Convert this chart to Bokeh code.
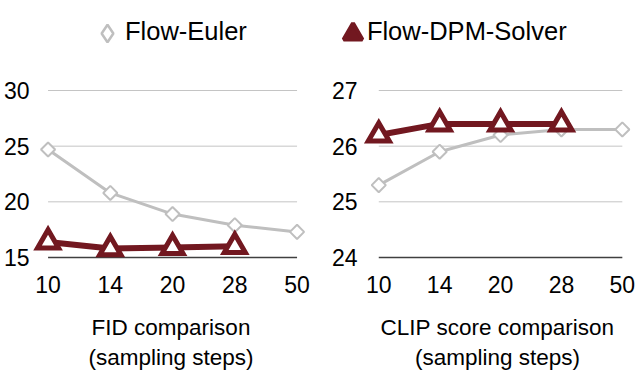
import math
from bokeh.plotting import figure
from bokeh.models import Range1d, Legend, LegendItem, FixedTicker
from bokeh.layouts import column, row
from bokeh.embed import file_html
from bokeh.resources import INLINE

steps = ["10", "14", "20", "28", "50"]
fid_euler = [24.7, 20.8, 18.9, 17.9, 17.3]
fid_dpm = [16.4, 15.8, 15.9, 16.0]
clip_euler = [25.3, 25.9, 26.2, 26.3, 26.3]
clip_dpm = [26.2, 26.4, 26.4, 26.4]
fid_ticks = [15, 20, 25, 30]
clip_ticks = [24, 25, 26, 27]
series_names = ["Flow-Euler", "Flow-DPM-Solver"]
panel_titles = ["FID comparison\n(sampling steps)", "CLIP score comparison\n(sampling steps)"]

GRAY = "#BFBFBF"
MAROON = "#721820"
GRID = "#C4C4C4"
AXIS = "#404040"
FONT = "Liberation Sans"


def panel(euler, dpm, ticks, title, x_range, y_range, mbl, mbr):
    p = figure(width=322, height=316, x_range=x_range, y_range=y_range,
               output_backend="svg", toolbar_location=None,
               min_border_left=mbl, min_border_right=mbr,
               min_border_top=18, min_border_bottom=122)
    p.outline_line_color = None
    p.grid.visible = False
    p.background_fill_color = None
    p.border_fill_color = None
    n = len(steps)
    idx = list(range(n))
    # gridlines and base line
    p.segment(x0=0, x1=n - 1, y0=ticks[1:], y1=ticks[1:], line_color=GRID, line_width=1)
    p.segment(x0=0, x1=n - 1, y0=ticks[0], y1=ticks[0], line_color=AXIS, line_width=1.3)
    # Flow-Euler
    p.line(idx[:len(euler)], euler, line_color=GRAY, line_width=3)
    p.scatter(idx[:len(euler)], euler, marker="square", angle=math.pi / 4, size=10,
              line_color=GRAY, fill_color="white", line_width=2)
    # Flow-DPM-Solver
    p.line(idx[:len(dpm)], dpm, line_color=MAROON, line_width=6)
    p.scatter(idx[:len(dpm)], dpm, marker="triangle", size=21,
              line_color=MAROON, fill_color="white", line_width=5, line_join="miter")

    p.xaxis.ticker = FixedTicker(ticks=idx)
    p.xaxis.major_label_overrides = {i: s for i, s in enumerate(steps)}
    p.yaxis.ticker = FixedTicker(ticks=ticks)
    for ax in (p.xaxis, p.yaxis):
        ax.axis_line_color = None
        ax.major_tick_line_color = None
        ax.minor_tick_line_color = None
        ax.major_tick_out = 0
        ax.major_tick_in = 0
        ax.minor_tick_out = 0
        ax.major_label_text_font = FONT
        ax.major_label_text_font_size = "23px"
        ax.major_label_text_color = "black"
    p.xaxis.major_label_standoff = 11
    p.yaxis.major_label_standoff = 3
    p.xaxis.axis_label = title
    p.xaxis.axis_label_text_font = FONT
    p.xaxis.axis_label_text_font_size = "22.5px"
    p.xaxis.axis_label_text_font_style = "normal"
    p.xaxis.axis_label_text_color = "black"
    p.xaxis.axis_label_standoff = 19
    p.xaxis.axis_label_text_line_height = 1.22
    return p


p1 = panel(fid_euler, fid_dpm, fid_ticks, panel_titles[0],
           Range1d(-0.25, 4.20), Range1d(14.371, 30.18), 31, 13)
p2 = panel(clip_euler, clip_dpm, clip_ticks, panel_titles[1],
           Range1d(-0.30, 4.20), Range1d(23.874, 27.036), 38, 10)

# legend strip
lf = figure(width=644, height=70, output_backend="svg", toolbar_location=None,
            x_axis_type=None, y_axis_type=None, min_border=0)
lf.outline_line_color = None
lf.grid.visible = False
lf.background_fill_color = None
lf.border_fill_color = None
r_e = lf.scatter(x=[0], y=[0], marker="diamond",
                 line_color=GRAY, fill_color="white", line_width=2.5)
r_d = lf.scatter(x=[0], y=[0], marker="triangle",
                 line_color=MAROON, fill_color=MAROON, line_width=4)
r_e.visible = False
r_d.visible = False

common = dict(border_line_color=None, background_fill_alpha=0, padding=0, margin=0,
              label_text_font=FONT, label_text_font_size="25.5px", label_text_color="black",
              label_standoff=0)
leg_text = Legend(items=[LegendItem(label=s, renderers=[]) for s in series_names],
                  orientation="horizontal", location=(125, 24), glyph_width=0,
                  glyph_height=30, spacing=120, **common)
leg_e = Legend(items=[LegendItem(label=" ", renderers=[r_e])],
               location=(85, 15), glyph_width=44, glyph_height=44, **common)
leg_d = Legend(items=[LegendItem(label=" ", renderers=[r_d])],
               location=(329, 13), glyph_width=47, glyph_height=47, **common)
lf.add_layout(leg_e)
lf.add_layout(leg_d)
lf.add_layout(leg_text)

layout = column(lf, row(p1, p2))
open("out.html", "w").write(file_html(layout, INLINE))
